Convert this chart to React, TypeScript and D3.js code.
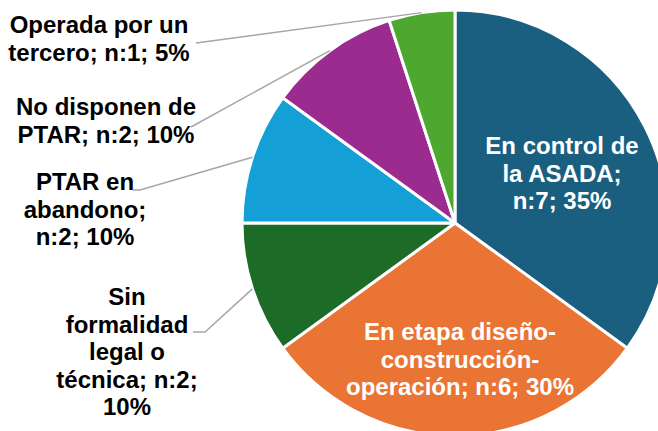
import * as d3 from "d3";
import { useEffect, useRef } from "react";

// categories (clockwise from 12 o'clock) and counts
const categories = [
  "En control de la ASADA",
  "En etapa diseño-construcción-operación",
  "Sin formalidad legal o técnica",
  "PTAR en abandono",
  "No disponen de PTAR",
  "Operada por un tercero",
];
const counts = [7, 6, 2, 2, 2, 1];
const colors = ["#1A5F80", "#E97434", "#1C6B26", "#149FD6", "#9B2B8F", "#4EA72E"];

// label text, broken into lines as in the original
const labelLines = [
  ["En control de", "la ASADA;", "n:7; 35%"],
  ["En etapa diseño-", "construcción-", "operación; n:6; 30%"],
  ["Sin", "formalidad", "legal o", "técnica; n:2;", "10%"],
  ["PTAR en", "abandono;", "n:2; 10%"],
  ["No disponen de", "PTAR; n:2; 10%"],
  ["Operada por un", "tercero; n:1; 5%"],
];
// label layout: center x, first baseline, inside?, leader anchor
const labelPos = [
  { x: 562, y: 154, inside: true },
  { x: 460, y: 340, inside: true },
  { x: 127, y: 305, inside: false, ax: 193, ay: 332, stub: 12 },
  { x: 85, y: 190, inside: false, ax: 133, ay: 190, stub: 7 },
  { x: 106, y: 115, inside: false, ax: 191, ay: 127, stub: 0 },
  { x: 99, y: 33, inside: false, ax: 196, ay: 43, stub: 0 },
];

const width = 658,
  height = 431;

const App = () => {
  const ref = useRef(null);

  useEffect(() => {
    const svg = d3.select(ref.current);
    svg.selectAll("*").remove();

    const cx = 455,
      cy = 223,
      r = 213;

    const pie = d3.pie().sort(null).value((d) => d);
    const arcs = pie(counts);
    const arc = d3.arc().innerRadius(0).outerRadius(r);

    const g = svg.append("g").attr("transform", `translate(${cx},${cy})`);

    g.selectAll("path")
      .data(arcs)
      .enter()
      .append("path")
      .attr("d", arc)
      .attr("fill", (d, i) => colors[i])
      .attr("stroke", "#ffffff")
      .attr("stroke-width", 3)
      .attr("stroke-linejoin", "round");

    // leader lines from slice mid-angle to outside labels
    arcs.forEach((a, i) => {
      const p = labelPos[i];
      if (p.inside) return;
      const mid = (a.startAngle + a.endAngle) / 2;
      const ex = cx + r * Math.sin(mid);
      const ey = cy - r * Math.cos(mid);
      const pts = [[p.ax, p.ay]];
      if (p.stub) pts.push([p.ax + p.stub, p.ay]);
      pts.push([ex, ey]);
      svg.append("path")
        .attr("d", d3.line()(pts))
        .attr("fill", "none")
        .attr("stroke", "#A6A6A6")
        .attr("stroke-width", 1.5);
    });

    labelLines.forEach((lines, i) => {
      const p = labelPos[i];
      const t = svg.append("text")
        .attr("text-anchor", "middle")
        .attr("font-family", "'Liberation Sans', Arial, sans-serif")
        .attr("font-weight", "bold")
        .attr("font-size", 24)
        .attr("fill", p.inside ? "#ffffff" : "#000000");
      lines.forEach((l, j) => {
        t.append("tspan")
          .attr("x", p.x)
          .attr("y", p.y + j * 27.5)
          .text(l);
      });
    });
  }, []);

  return (
    <div style={{ position: "fixed", left: 0, top: 0, width, height, background: "#fff" }}>
      <svg ref={ref} width={width} height={height} />
    </div>
  );
};

export default App;
